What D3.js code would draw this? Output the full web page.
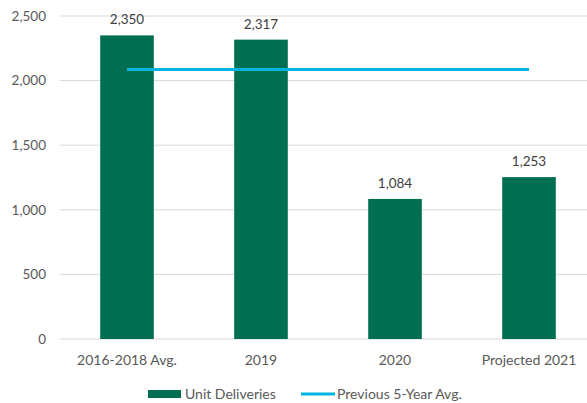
<!DOCTYPE html>
<html>
<head>
<meta charset="utf-8">
<script src="https://cdn.jsdelivr.net/npm/d3@7"></script>
<style>
  body { margin: 0; background: #fff; }
  text { font-family: Lato, "Noto Sans", sans-serif; }
</style>
</head>
<body>
<div id="chart"></div>
<script>
// data
var categories = ['2016-2018 Avg.', '2019', '2020', 'Projected 2021']
var deliveries = [2350, 2317, 1084, 1253]
var prevAvg = [2085, 2085, 2085, 2085]
var yTicks = [0, 500, 1000, 1500, 2000, 2500]

var W = 587, H = 403
var margin = {top: 16, right: -9, bottom: 64, left: 60},
    width = W - margin.left - margin.right,
    height = H - margin.top - margin.bottom;

var svg = d3.select('#chart').append('svg')
    .attr('width', W)
    .attr('height', H)

var g = svg.append('g')
    .attr('transform', 'translate(' + margin.left + ',' + margin.top + ')')

var x = d3.scaleBand()
    .domain(categories)
    .range([0, width])
    .paddingInner(0.6)
    .paddingOuter(0.3)

var y = d3.scaleLinear()
    .domain([0, 2500])
    .range([height, 0])

// gridlines
g.selectAll('.grid')
    .data(yTicks)
    .enter().append('line')
    .attr('x1', 0)
    .attr('x2', width)
    .attr('y1', d => y(d))
    .attr('y2', d => y(d))
    .attr('stroke', '#d9d9d9')
    .attr('stroke-width', 1)

// y tick labels
g.selectAll('.ytick')
    .data(yTicks)
    .enter().append('text')
    .attr('x', -14)
    .attr('y', d => y(d))
    .attr('dy', '0.35em')
    .attr('text-anchor', 'end')
    .attr('fill', '#595959')
    .style('font-size', '13.5px')
    .text(d => d3.format(',')(d))

// bars
g.selectAll('.bar')
    .data(deliveries)
    .enter().append('rect')
    .attr('x', (d, i) => x(categories[i]))
    .attr('y', d => y(d))
    .attr('width', x.bandwidth())
    .attr('height', d => height - y(d))
    .attr('fill', '#006f51')

// bar value labels
g.selectAll('.lbl')
    .data(deliveries)
    .enter().append('text')
    .attr('x', (d, i) => x(categories[i]) + x.bandwidth() / 2)
    .attr('y', d => y(d) - 11)
    .attr('text-anchor', 'middle')
    .attr('fill', '#404040')
    .style('font-size', '13.5px')
    .text(d => d3.format(',')(d))

// category labels
g.selectAll('.xtick')
    .data(categories)
    .enter().append('text')
    .attr('x', d => x(d) + x.bandwidth() / 2)
    .attr('y', height + 21)
    .attr('dy', '0.35em')
    .attr('text-anchor', 'middle')
    .attr('fill', '#595959')
    .style('font-size', '14px')
    .text(d => d)

// previous 5-year avg line
g.append('path')
    .datum(prevAvg)
    .attr('fill', 'none')
    .attr('stroke', '#00b4e0')
    .attr('stroke-width', 3)
    .attr('d', d3.line()
        .x((d, i) => x(categories[i]) + x.bandwidth() / 2)
        .y(d => y(d)))

// legend
var leg = svg.append('g').attr('transform', 'translate(0,394)')
leg.append('rect').attr('x', 148).attr('y', -4).attr('width', 33).attr('height', 8).attr('fill', '#006f51')
leg.append('text').attr('x', 185).attr('y', 0).attr('dy', '0.35em')
    .attr('fill', '#595959').style('font-size', '14px').text('Unit Deliveries')
leg.append('line').attr('x1', 301).attr('x2', 335).attr('y1', 0).attr('y2', 0)
    .attr('stroke', '#00b4e0').attr('stroke-width', 3)
leg.append('text').attr('x', 337).attr('y', 0).attr('dy', '0.35em')
    .attr('fill', '#595959').style('font-size', '14px').text('Previous 5-Year Avg.')
</script>
</body>
</html>
